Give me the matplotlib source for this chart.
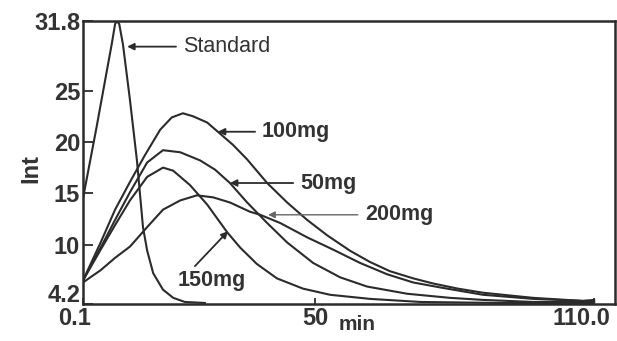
import matplotlib.pyplot as plt
from matplotlib.transforms import ScaledTranslation

plt.rcParams['font.family'] = ['Liberation Sans', 'DejaVu Sans']

# intensity traces (time in min, Int)
t_std = [0.1, 3.0, 6.3, 7.0, 7.4, 7.9, 8.7, 10.2, 11.7, 13.0, 13.9, 15.2, 17.3, 19.5, 22.0, 26.3]
i_std = [14.5, 21.4, 29.6, 31.5, 31.8, 31.5, 29.5, 24.1, 18.2, 11.7, 9.4, 7.2, 5.6, 4.8, 4.4, 4.3]

t_100 = [0.1, 3.9, 7.0, 10.2, 13.4, 16.7, 19.2, 21.6, 23.8, 26.8, 29.1, 32.4, 35.4, 39.7,
         44.0, 48.3, 52.6, 57.5, 61.8, 66.1, 71.1, 75.4, 80.7, 86.1, 96.9, 107.6, 110.0]
i_100 = [6.5, 10.2, 13.4, 16.1, 18.7, 21.2, 22.4, 22.8, 22.5, 21.9, 21.0, 19.7, 18.3, 16.0,
         14.1, 12.4, 10.9, 9.4, 8.3, 7.4, 6.7, 6.2, 5.7, 5.3, 4.8, 4.5, 4.6]

t_50 = [0.1, 3.9, 7.0, 10.2, 13.9, 17.3, 21.0, 25.3, 28.5, 31.7, 35.4, 39.7, 44.0, 49.6,
        55.4, 61.2, 69.8, 79.0, 86.1, 96.9, 110.0]
i_50 = [6.5, 9.7, 12.4, 15.1, 18.0, 19.2, 19.0, 18.2, 17.3, 16.0, 14.1, 12.1, 10.2, 8.2,
        6.8, 5.9, 5.2, 4.8, 4.6, 4.4, 4.4]

t_150 = [0.1, 3.9, 7.0, 10.2, 13.9, 17.3, 19.5, 23.1, 26.8, 31.1, 33.9, 37.5, 41.8, 47.4,
         53.2, 61.8, 72.6, 90.0, 110.0]
i_150 = [6.5, 9.5, 11.9, 14.3, 16.6, 17.5, 17.2, 15.8, 13.9, 11.2, 9.7, 8.1, 6.7, 5.7,
         5.1, 4.7, 4.4, 4.3, 4.3]

t_200 = [0.1, 3.9, 7.0, 10.2, 13.9, 17.3, 21.0, 24.6, 28.1, 31.7, 36.0, 38.2, 42.5, 48.3,
         53.9, 59.7, 65.5, 71.1, 77.1, 86.1, 96.9, 107.6, 110.0]
i_200 = [6.3, 7.5, 8.7, 9.8, 11.7, 13.4, 14.3, 14.8, 14.6, 14.1, 13.2, 12.9, 12.1, 10.7,
         9.5, 8.2, 7.1, 6.3, 5.8, 5.1, 4.7, 4.5, 4.5]

x_ticks = [0.1, 50, 110]
x_ticklabels = ['0.1', '50', '110.0']
y_ticks = [4.2, 10, 15, 20, 25, 31.8]
y_ticklabels = ['4.2', '10', '15', '20', '25', '31.8']

ink = '#2b2b2b'
txt = '#333333'

fig = plt.figure(figsize=(6.17, 3.41), dpi=100)
ax = fig.add_axes([0.1345, 0.1085, 0.8623, 0.8299])

for t, i in [(t_std, i_std), (t_100, i_100), (t_50, i_50), (t_150, i_150), (t_200, i_200)]:
    ax.plot(t, i, color=ink, lw=1.5)

ax.set_xlim(0.1, 114.5)
ax.set_ylim(4.2, 31.8)
ax.set_xticks(x_ticks)
ax.set_xticklabels(x_ticklabels)
ax.set_yticks(y_ticks)
ax.set_yticklabels(y_ticklabels)
ax.tick_params(direction='in', length=7, width=1.3, color=ink, pad=2,
               labelsize=17, labelcolor=txt)
ax.tick_params(axis='x', length=4, pad=2)
for lab in ax.get_xticklabels() + ax.get_yticklabels():
    lab.set_fontweight('bold')

# nudge the end labels so they don't collide at the corner / page edge
xl = ax.get_xticklabels()
xl[0].set_transform(xl[0].get_transform() + ScaledTranslation(-6 / 72, 0, fig.dpi_scale_trans))
xl[-1].set_transform(xl[-1].get_transform() + ScaledTranslation(-9 / 72, 0, fig.dpi_scale_trans))
yl = ax.get_yticklabels()
yl[0].set_transform(yl[0].get_transform() + ScaledTranslation(0, 8 / 72, fig.dpi_scale_trans))

for sp in ax.spines.values():
    sp.set_linewidth(1.8)
    sp.set_color(ink)

ax.set_xlabel('min', fontsize=15, fontweight='bold', color=txt)
ax.xaxis.set_label_coords(0.515, -0.039)
ax.set_ylabel('Int', fontsize=17, fontweight='bold', color=txt)
ax.yaxis.set_label_coords(-0.077, 0.48)

arrow = dict(arrowstyle='-|>', color=ink, lw=1.3, mutation_scale=10, shrinkA=3, shrinkB=0)
ax.annotate('Standard', xy=(9.6, 29.3), xytext=(21.6, 29.3), ha='left', va='center',
            fontsize=15.5, color=txt, arrowprops=arrow)
ax.annotate('100mg', xy=(29.1, 21.0), xytext=(38.6, 21.0), ha='left', va='center',
            fontsize=15.5, fontweight='bold', color=txt, arrowprops=arrow)
ax.annotate('50mg', xy=(31.7, 16.0), xytext=(46.8, 16.0), ha='left', va='center',
            fontsize=15.5, fontweight='bold', color=txt, arrowprops=arrow)
ax.annotate('200mg', xy=(39.9, 12.9), xytext=(60.7, 12.9), ha='left', va='center',
            fontsize=15.5, fontweight='bold', color=txt,
            arrowprops=dict(arrow, color='#666666', lw=1.0))
ax.annotate('150mg', xy=(31.3, 11.3), xytext=(27.8, 6.5), ha='center', va='center',
            fontsize=15.5, fontweight='bold', color=txt,
            arrowprops=dict(arrow, relpos=(0.2, 1.0), shrinkA=1))

fig.savefig('out.png', dpi=100)
